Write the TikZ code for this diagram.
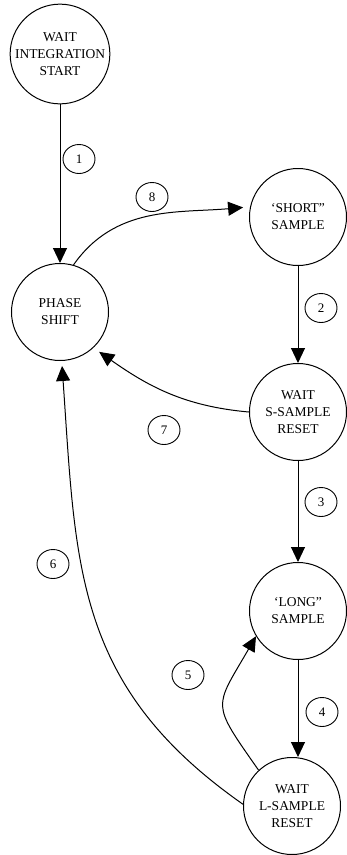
\documentclass[tikz,border=0pt]{standalone}
\usepackage{fontspec}
\setmainfont{Liberation Serif}
\usetikzlibrary{arrows.meta,shapes}

\begin{document}
\begin{tikzpicture}[x=1pt,y=1pt,
        state/.style={draw,circle,line width=1pt,minimum size=97pt,inner sep=0pt,align=center,font=\fontsize{13.5}{17}\selectfont},
        num/.style={draw,ellipse,line width=0.9pt,minimum width=32pt,minimum height=29pt,inner sep=0pt,font=\fontsize{13}{15}\selectfont},
        arr/.style={-{Triangle[length=15pt,width=14pt]},line width=1pt}]
            \useasboundingbox (0,0) rectangle (346,-855);
            \node[state] (wis) at (60,-54) {WAIT\\INTEGRATION\\START};
            \node[state] (ps) at (60,-312) {PHASE\\SHIFT};
            \node[state] (ss) at (298,-217) {`SHORT''\\SAMPLE};
            \node[state] (ws) at (298,-412) {WAIT\\S-SAMPLE\\RESET};
            \node[state] (ls) at (298,-611) {`LONG''\\SAMPLE};
            \node[state] (wl) at (292,-806) {WAIT\\L-SAMPLE\\RESET};
            \node[num] (n1) at (79,-159) {1};
            \node[num] (n2) at (321,-308) {2};
            \node[num] (n3) at (321,-502) {3};
            \node[num] (n4) at (322,-712) {4};
            \node[num] (n5) at (188,-675) {5};
            \node[num] (n6) at (53,-564) {6};
            \node[num] (n7) at (164,-430) {7};
            \node[num] (n8) at (152,-197) {8};
            \draw[arr] (wis) -- (ps);
            \draw[arr] (ss) -- (ws);
            \draw[arr] (ws) -- (ls);
            \draw[arr] (ls.south) -- (ls.south |- wl.north);
            \draw[arr,shorten >=7pt] (ps.74) to[out=55,in=185] (ss.168);
            \draw[arr,shorten >=7pt] (ws.west) to[out=175,in=-35] (ps.-47);
            \draw[arr,shorten >=5pt] (wl.178) to[out=145,in=-86,looseness=1.1] (ps.-88);
            \draw[arr] (wl.133) to[out=125,in=240,looseness=1.6] (ls.211);
        \end{tikzpicture}
\end{document}
